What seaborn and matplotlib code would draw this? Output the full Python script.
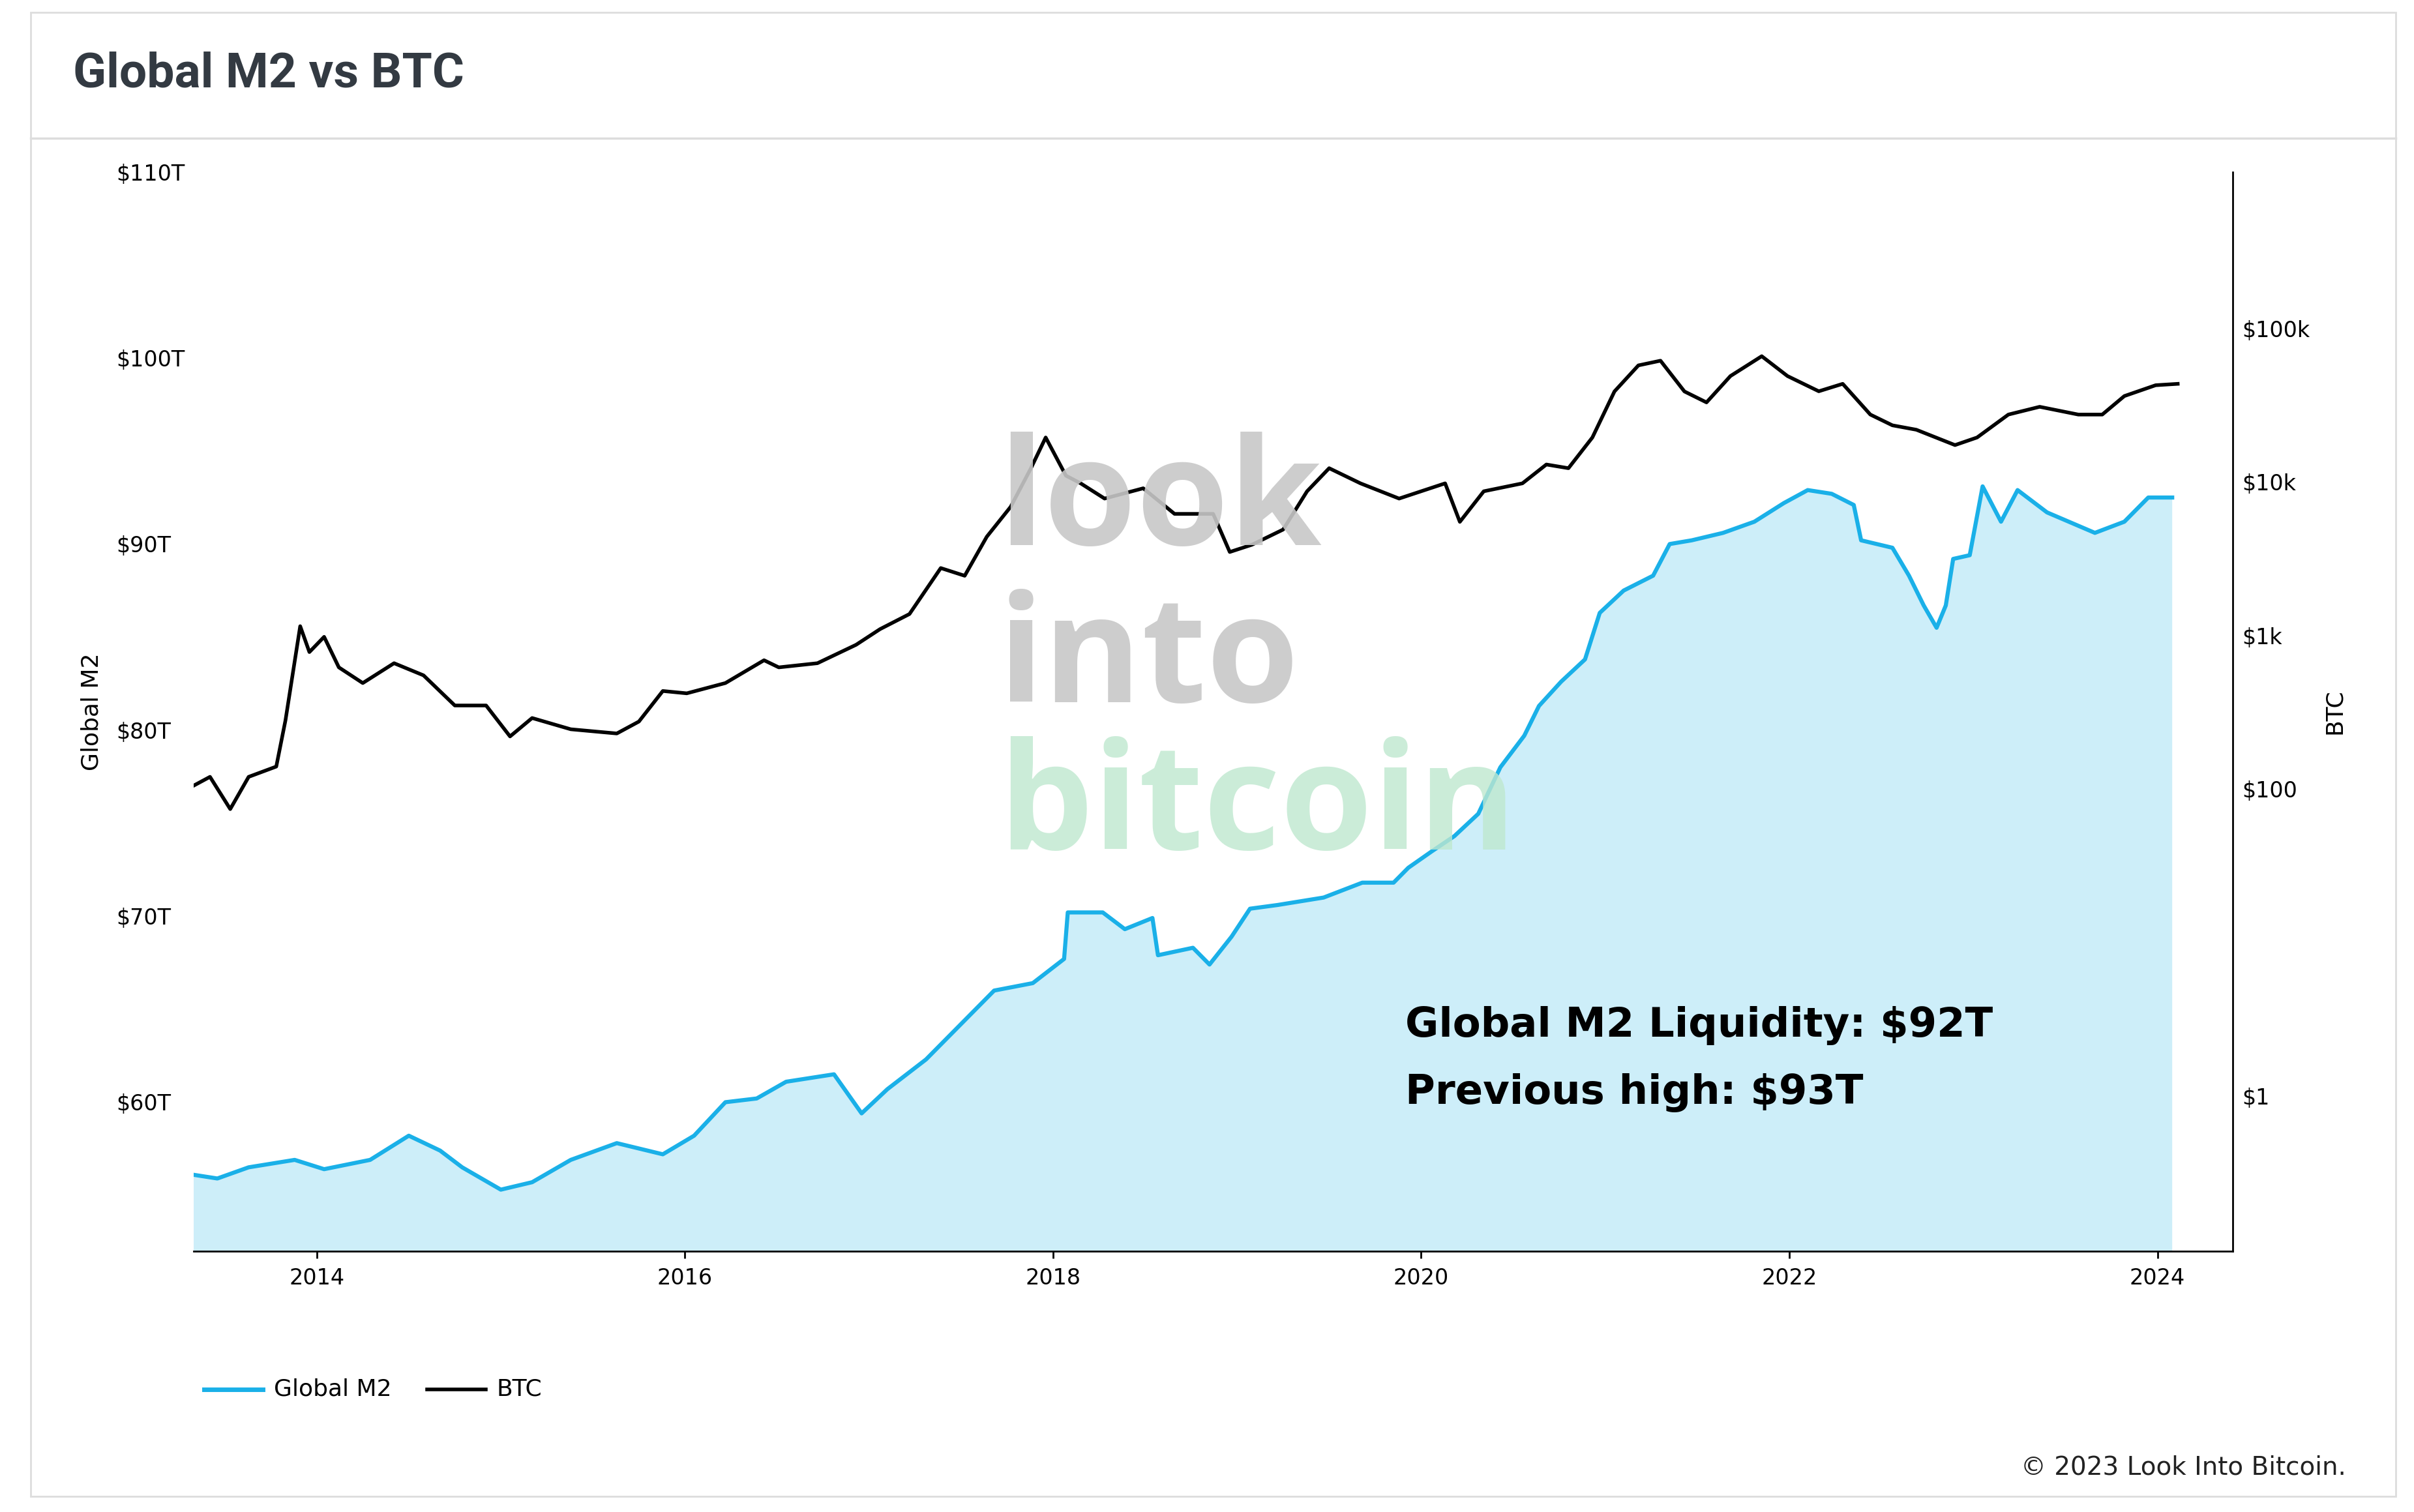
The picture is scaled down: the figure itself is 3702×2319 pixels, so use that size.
import numpy as np
import pandas as pd
import matplotlib
matplotlib.use("Agg")
import matplotlib.pyplot as plt
import seaborn as sns
from matplotlib.lines import Line2D
from matplotlib.patches import Rectangle

m2_year = [2013.33,2013.46,2013.63,2013.88,2014.04,2014.29,2014.50,2014.67,2014.79,2015.00,2015.17,2015.38,2015.63,2015.88,2016.05,2016.22,2016.39,2016.55,2016.81,2016.96,2017.10,2017.31,2017.56,2017.68,2017.89,2018.06,2018.08,2018.27,2018.39,2018.54,2018.57,2018.76,2018.85,2018.97,2019.07,2019.22,2019.47,2019.68,2019.85,2019.93,2020.06,2020.18,2020.31,2020.43,2020.56,2020.64,2020.76,2020.89,2020.97,2021.10,2021.26,2021.35,2021.47,2021.64,2021.81,2021.97,2022.10,2022.23,2022.35,2022.39,2022.56,2022.65,2022.73,2022.80,2022.85,2022.89,2022.98,2023.05,2023.15,2023.24,2023.40,2023.66,2023.82,2023.95,2024.08]
m2_trillions = [56.1,55.9,56.5,56.9,56.4,56.9,58.2,57.4,56.5,55.3,55.7,56.9,57.8,57.2,58.2,60.0,60.2,61.1,61.5,59.4,60.7,62.3,64.8,66.0,66.4,67.7,70.2,70.2,69.3,69.9,67.9,68.3,67.4,68.9,70.4,70.6,71.0,71.8,71.8,72.6,73.5,74.3,75.5,78.0,79.7,81.3,82.6,83.8,86.3,87.5,88.3,90.0,90.2,90.6,91.2,92.2,92.9,92.7,92.1,90.2,89.8,88.3,86.7,85.5,86.7,89.2,89.4,93.1,91.2,92.9,91.7,90.6,91.2,92.5,92.5]

btc_year = [2013.33,2013.42,2013.53,2013.63,2013.78,2013.83,2013.91,2013.96,2014.04,2014.12,2014.25,2014.42,2014.58,2014.75,2014.92,2015.05,2015.17,2015.38,2015.63,2015.75,2015.88,2016.01,2016.22,2016.43,2016.51,2016.72,2016.93,2017.06,2017.22,2017.39,2017.52,2017.64,2017.77,2017.88,2017.96,2018.07,2018.15,2018.28,2018.49,2018.66,2018.87,2018.96,2019.08,2019.25,2019.38,2019.50,2019.67,2019.88,2020.13,2020.21,2020.34,2020.55,2020.68,2020.80,2020.93,2021.05,2021.18,2021.30,2021.43,2021.55,2021.68,2021.85,2021.99,2022.16,2022.29,2022.44,2022.56,2022.69,2022.90,2023.02,2023.19,2023.36,2023.57,2023.70,2023.82,2023.99,2024.11]
btc_usd = [105,120,74,120,140,280,1150,780,980,620,490,660,550,350,350,220,290,245,230,275,435,420,490,690,620,660,870,1100,1380,2750,2450,4400,6900,12300,19500,11000,9800,7800,9100,6200,6200,3500,3900,4900,8700,12300,9800,7800,9800,5500,8700,9800,13000,12300,19500,38900,57500,61700,38900,33000,49000,66000,49000,39000,43600,27500,23400,21900,17400,19500,27500,30900,27500,27500,36300,42700,43600]

m2_ticks = [60,70,80,90,100,110]
btc_ticks = [1,100,1000,10000,100000]
btc_tick_labels = ["$1","$100","$1k","$10k","$100k"]
year_ticks = [2014,2016,2018,2020,2022,2024]

m2_df = pd.DataFrame({"year": m2_year, "m2": m2_trillions})
btc_df = pd.DataFrame({"year": btc_year, "btc": btc_usd})

W, H = 1560, 985
fig = plt.figure(figsize=(37.02, 23.19), dpi=100)
fig.patch.set_facecolor("white")
fig.add_artist(Rectangle((20/W, 1-975/H), 1528/W, 967/H, transform=fig.transFigure,
                         fill=False, edgecolor="#dddddd", linewidth=2))
fig.add_artist(Line2D([20/W, 1548/W], [1-90/H]*2, transform=fig.transFigure, color="#dddddd", linewidth=2.5))
fig.text(47/W, 1-48/H, "Global M2 vs BTC", fontsize=54, fontweight="bold", color="#333a42",
         va="center", family="Roboto")

ax = fig.add_axes([125/W, 1-815/H, 1318/W, 703/H])
blue = "#1ab0e8"
ax.fill_between(m2_df["year"], 0, m2_df["m2"], color="#cdeef9", linewidth=0)
sns.lineplot(data=m2_df, x="year", y="m2", ax=ax, color=blue, linewidth=4.5)
ax.set_ylim(52, 110)
ax.set_xlim(2013.33, 2024.41)
ax.set_yticks(m2_ticks)
ax.set_yticklabels([f"${v}T" for v in m2_ticks], ha="left")
ax.tick_params(axis="y", length=0, pad=85, labelsize=24)
ax.set_xticks(year_ticks)
ax.tick_params(axis="x", labelsize=24, length=8, width=2, pad=10)
ax.set_ylabel("Global M2", fontsize=26, labelpad=15)
ax.set_xlabel("")
for s in ["top", "left", "right"]:
    ax.spines[s].set_visible(False)
ax.spines["bottom"].set_linewidth(2)
ax.grid(False)

ax2 = ax.twinx()
sns.lineplot(data=btc_df, x="year", y="btc", ax=ax2, color="black", linewidth=4)
ax2.set_yscale("log")
ax2.set_ylim(10**-1.01, 10**6.02)
ax2.set_yticks(btc_ticks)
ax2.set_yticklabels(btc_tick_labels)
ax2.minorticks_off()
ax2.tick_params(axis="y", labelsize=24, length=0, pad=10)
ax2.set_ylabel("BTC", fontsize=26, labelpad=15)
for s in ["top", "left", "bottom"]:
    ax2.spines[s].set_visible(False)
ax2.spines["right"].set_linewidth(2)

wm = dict(fontsize=165, fontweight="bold", va="center", family="Open Sans")
fig.text(645/W, 1-330/H, "look", color="#c8c8c8", alpha=0.9, **wm)
fig.text(645/W, 1-432/H, "into", color="#c8c8c8", alpha=0.9, **wm)
fig.text(645/W, 1-528/H, "bitcoin", color="#bfe8cf", alpha=0.8, **wm)

fig.text(908/W, 1-668/H, "Global M2 Liquidity: $92T", fontsize=45, fontweight="bold", va="center", family="DejaVu Sans")
fig.text(908/W, 1-712/H, "Previous high: $93T", fontsize=45, fontweight="bold", va="center", family="DejaVu Sans")

fig.add_artist(Line2D([132/W, 170/W], [1-905/H]*2, transform=fig.transFigure, color=blue, linewidth=5))
fig.text(177/W, 1-905/H, "Global M2", fontsize=26, va="center")
fig.add_artist(Line2D([276/W, 314/W], [1-905/H]*2, transform=fig.transFigure, color="black", linewidth=4))
fig.text(321/W, 1-905/H, "BTC", fontsize=26, va="center")
fig.text(1516/W, 1-956/H, "© 2023 Look Into Bitcoin.", fontsize=28, ha="right", va="center", color="#222222")

fig.savefig("out.png", dpi=100)
